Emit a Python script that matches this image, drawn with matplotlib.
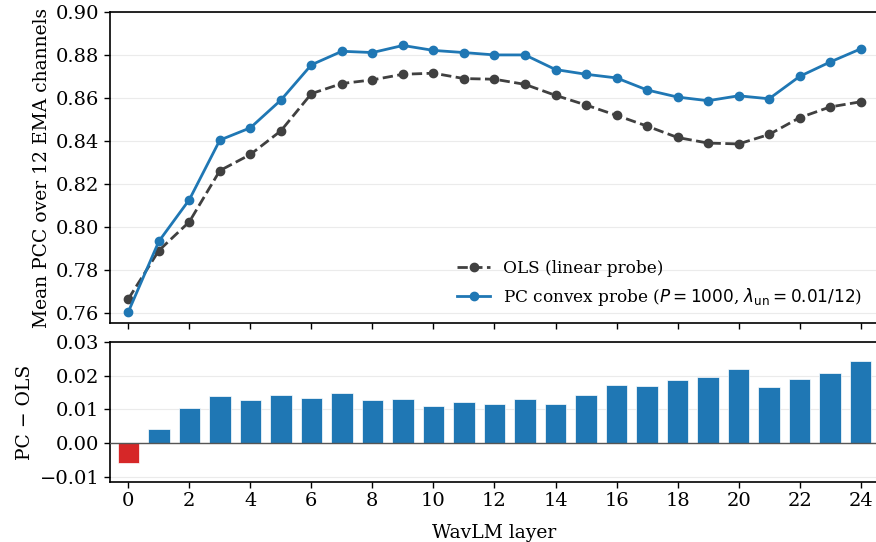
import numpy as np
import matplotlib
matplotlib.use("Agg")
from matplotlib import pyplot as plt

layers = np.arange(25)

ols_pcc = [0.7665, 0.7890, 0.8024, 0.8262, 0.8337, 0.8447, 0.8620, 0.8667, 0.8684,
           0.8710, 0.8715, 0.8690, 0.8687, 0.8663, 0.8612, 0.8567, 0.8519, 0.8469,
           0.8416, 0.8390, 0.8386, 0.8430, 0.8508, 0.8558, 0.8582]
pc_pcc = [0.7605, 0.7933, 0.8127, 0.8404, 0.8461, 0.8590, 0.8754, 0.8817, 0.8811,
          0.8844, 0.8821, 0.8811, 0.8800, 0.8800, 0.8732, 0.8710, 0.8693, 0.8637,
          0.8604, 0.8587, 0.8610, 0.8596, 0.8700, 0.8767, 0.8828]
diff = [-0.0058, 0.0042, 0.0104, 0.0139, 0.0127, 0.0142, 0.0133, 0.0150, 0.0129,
        0.0131, 0.0109, 0.0121, 0.0115, 0.0132, 0.0117, 0.0144, 0.0174, 0.0169,
        0.0188, 0.0195, 0.0220, 0.0166, 0.0190, 0.0209, 0.0244]

plt.rcParams["font.family"] = "DejaVu Serif"
plt.rcParams["font.size"] = 13.5
plt.rcParams["xtick.labelsize"] = 14
plt.rcParams["ytick.labelsize"] = 14

fig = plt.figure(figsize=(8.76, 5.42), dpi=100)
ax1 = fig.add_axes([0.1256, 0.404, 0.876, 0.574])
ax2 = fig.add_axes([0.1256, 0.1107, 0.876, 0.258])

ax1.plot(layers, ols_pcc, "--o", color="#404040", lw=2, ms=6,
         label="OLS (linear probe)")
ax1.plot(layers, pc_pcc, "-o", color="#1f77b4", lw=2, ms=6,
         label=r"PC convex probe ($P=1000$, $\lambda_{\rm un}=0.01/12$)")
ax1.set_ylim(0.7553, 0.90)
ax1.set_yticks(np.arange(0.76, 0.901, 0.02))
ax1.set_ylabel("Mean PCC over 12 EMA channels")
ax1.tick_params(labelbottom=False)
ax1.legend(loc="lower right", frameon=False, fontsize=12.2,
           bbox_to_anchor=(1.0, 0.0), handlelength=1.9)

colors = ["#d62728" if d < 0 else "#1f77b4" for d in diff]
ax2.bar(layers, diff, width=0.7, color=colors, edgecolor="white", linewidth=0.5)
ax2.axhline(0, color="#555555", lw=1, zorder=3)
ax2.set_ylim(-0.0116, 0.03)
ax2.set_yticks([-0.01, 0.0, 0.01, 0.02, 0.03])
ax2.set_ylabel("PC − OLS")
ax2.set_xlabel("WavLM layer", labelpad=10)

for ax in (ax1, ax2):
    ax.set_xlim(-0.6, 24.55)
    ax.set_xticks(np.arange(0, 25, 2))
    ax.grid(axis="y", color="#ebebeb", lw=0.8)
    ax.set_axisbelow(True)
    for s in ax.spines.values():
        s.set_linewidth(1.2)
    ax.tick_params(direction="out", length=4, width=1)

fig.savefig("out.png", dpi=100)
